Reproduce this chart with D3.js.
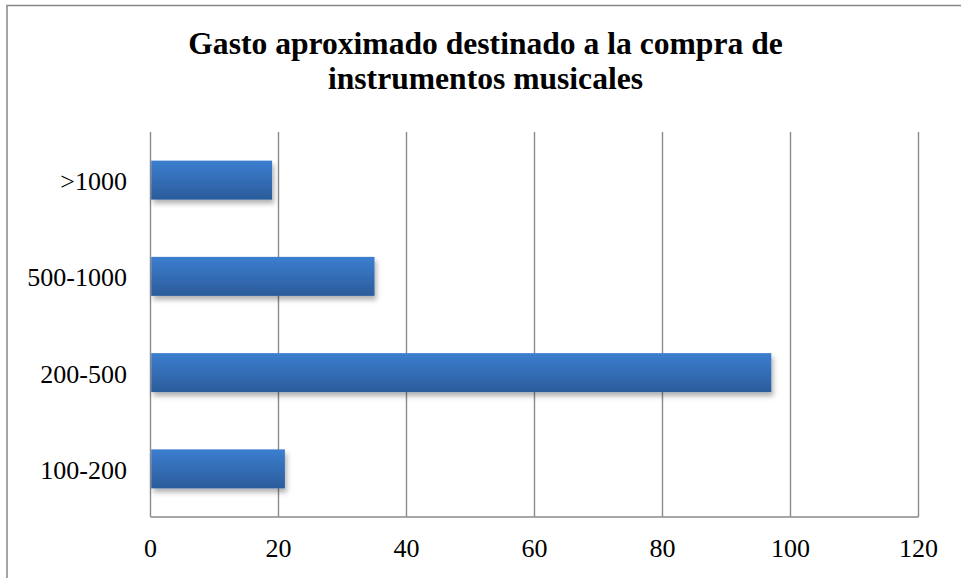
<!DOCTYPE html>
<html>
<head>
<meta charset="utf-8">
<script src="https://cdn.jsdelivr.net/npm/d3@7/dist/d3.min.js"></script>
<style>
  html, body { margin: 0; padding: 0; background: #fff; }
  svg { display: block; }
</style>
</head>
<body>
<svg id="chart" width="961" height="578"></svg>
<script>
// Spending brackets (bottom to top) and number of respondents in each
const categories = ["100-200", "200-500", "500-1000", ">1000"];
const values = [21, 97, 35, 19];
const xTicks = [0, 20, 40, 60, 80, 100, 120];
const titleLines = ["Gasto aproximado destinado a la compra de", "instrumentos musicales"];

const FONT = "'Times New Roman', 'Liberation Serif', Times, 'DejaVu Serif', serif";

const svg = d3.select("#chart");
const W = 961, H = 578;
const plot = { left: 150.5, right: 918.5, top: 132, bottom: 517 };

svg.append("rect").attr("width", W).attr("height", H).attr("fill", "#fff");

// Frame (top and left edges visible)
svg.append("path")
  .attr("d", `M7,${H} L7,5.5 L${W},5.5`)
  .attr("fill", "none").attr("stroke", "#888").attr("stroke-width", 1.5);

const defs = svg.append("defs");
const grad = defs.append("linearGradient").attr("id", "barGrad")
  .attr("x1", 0).attr("y1", 0).attr("x2", 0).attr("y2", 1);
grad.append("stop").attr("offset", "0%").attr("stop-color", "#3c7ed0");
grad.append("stop").attr("offset", "100%").attr("stop-color", "#2b5c9b");

const shadow = defs.append("filter").attr("id", "barShadow")
  .attr("x", "-5%").attr("y", "-30%").attr("width", "115%").attr("height", "180%");
shadow.append("feDropShadow").attr("dx", 2).attr("dy", 4).attr("stdDeviation", 2.5)
  .attr("flood-color", "#000").attr("flood-opacity", 0.3);

const x = d3.scaleLinear().domain([0, 120]).range([plot.left, plot.right]);
const y = d3.scaleBand().domain(categories.slice().reverse())
  .range([plot.top, plot.bottom]).paddingInner(0.595).paddingOuter(0.2975);

// Vertical gridlines
svg.append("g").selectAll("line").data(xTicks).join("line")
  .attr("x1", d => x(d)).attr("x2", d => x(d))
  .attr("y1", plot.top).attr("y2", plot.bottom)
  .attr("stroke", "#8a8a8a").attr("stroke-width", 1.4);

// Bottom axis line
svg.append("line")
  .attr("x1", plot.left).attr("x2", plot.right)
  .attr("y1", plot.bottom).attr("y2", plot.bottom)
  .attr("stroke", "#8a8a8a").attr("stroke-width", 1.4);

// Bars
svg.append("g").selectAll("rect").data(categories).join("rect")
  .attr("x", x(0) + 0.7)
  .attr("y", d => y(d))
  .attr("width", (d, i) => x(values[i]) - x(0) - 0.7)
  .attr("height", y.bandwidth())
  .attr("fill", "url(#barGrad)")
  .attr("filter", "url(#barShadow)");

// X tick labels
svg.append("g").selectAll("text").data(xTicks).join("text")
  .attr("x", d => x(d)).attr("y", 557)
  .attr("text-anchor", "middle")
  .attr("font-family", FONT)
  .attr("font-size", 26)
  .text(d => d);

// Category labels
svg.append("g").selectAll("text").data(categories).join("text")
  .attr("x", 127).attr("y", d => y(d) + y.bandwidth() / 2 + 10)
  .attr("text-anchor", "end")
  .attr("font-family", FONT)
  .attr("font-size", 26)
  .text(d => d);

// Title
svg.append("g").selectAll("text").data(titleLines).join("text")
  .attr("x", 485.5).attr("y", (d, i) => 54 + i * 34.5)
  .attr("text-anchor", "middle")
  .attr("font-family", FONT)
  .attr("font-size", 31.6).attr("font-weight", "bold")
  .text(d => d);
</script>
</body>
</html>
